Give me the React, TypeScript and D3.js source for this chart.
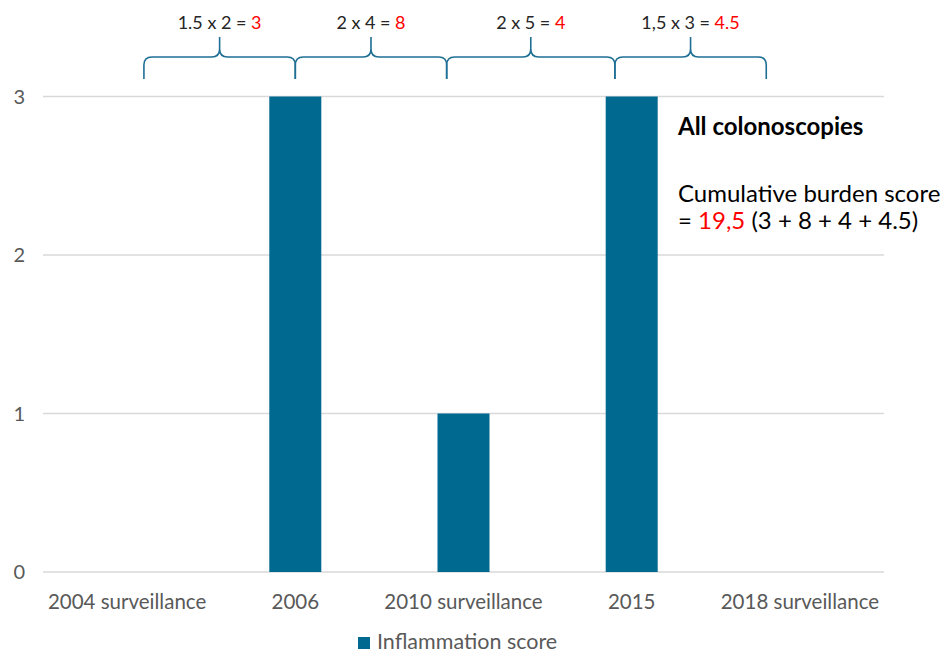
import React from "react";
import * as d3 from "d3";

const categories = ["2004 surveillance", "2006", "2010 surveillance", "2015", "2018 surveillance"];
const inflammationScores = [0, 3, 1, 3, 0];
const yTicks = [0, 1, 2, 3];
// brace spans in category-index units (0 = first category centre)
const braceStarts = [0.1, 1.0, 1.9, 2.9];
const braceEnds = [1.0, 1.9, 2.9, 3.8];
const braceFormulas = ["1.5 x 2 = ", "2 x 4 = ", "2 x 5 = ", "1,5 x 3 = "];
const braceResults = ["3", "8", "4", "4.5"];
const seriesName = "Inflammation score";
const annotationTitle = "All colonoscopies";
const annotationLine1 = "Cumulative burden score";
const annotationTotal = "19,5";
const annotationRest = " (3 + 8 + 4 + 4.5)";

const W = 946;
const H = 655;
const FONT = "Lato, 'Open Sans', sans-serif";
const BAR = "#00698f";
const BRACE = "#1f6f95";

export default function App() {
  const left = 43;
  const right = 884;
  const top = 96.5;
  const bottom = 572;

  const x = d3.scaleBand<string>().domain(categories).range([left, right]).paddingInner(0).paddingOuter(0);
  const bw = x.bandwidth();
  const barW = 52;
  const y = d3.scaleLinear().domain([0, 3]).range([bottom, top]);
  const idx = d3.scaleLinear().domain([0, 1]).range([left + bw / 2, left + bw * 1.5]);

  const yt = 57;
  const yb = 79;
  const ytip = 37;
  const r = 8;

  const bracePath = (x0: number, x1: number) => {
    const xm = (x0 + x1) / 2;
    const p = d3.path();
    p.moveTo(x0, yb);
    p.lineTo(x0, yt + r);
    p.quadraticCurveTo(x0, yt, x0 + r, yt);
    p.lineTo(xm - r, yt);
    p.quadraticCurveTo(xm, yt, xm, yt - r);
    p.lineTo(xm, ytip);
    p.moveTo(xm, yt - r);
    p.quadraticCurveTo(xm, yt, xm + r, yt);
    p.lineTo(x1 - r, yt);
    p.quadraticCurveTo(x1, yt, x1, yt + r);
    p.lineTo(x1, yb);
    return p.toString();
  };

  return (
    <svg
      width={W}
      height={H}
      style={{ position: "absolute", left: 0, top: 0, background: "#fff" }}
      fontFamily={FONT}
    >
      {yTicks.map((t) => (
        <g key={t}>
          <line x1={left} x2={right} y1={y(t)} y2={y(t)} stroke="#d9d9d9" strokeWidth={1.3} />
          <text x={25} y={y(t)} dy="0.35em" textAnchor="end" fontSize={20} fill="#595959">
            {t}
          </text>
        </g>
      ))}
      {categories.map((c, i) => (
        <g key={c}>
          {inflammationScores[i] > 0 && (
            <rect
              x={(x(c) as number) + bw / 2 - barW / 2}
              y={y(inflammationScores[i])}
              width={barW}
              height={bottom - y(inflammationScores[i])}
              fill={BAR}
            />
          )}
          <text
            x={(x(c) as number) + bw / 2}
            y={609}
            textAnchor="middle"
            fontSize={20.5}
            fill="#595959"
          >
            {c}
          </text>
        </g>
      ))}
      {braceStarts.map((s, i) => {
        const x0 = idx(s);
        const x1 = idx(braceEnds[i]);
        const xm = (x0 + x1) / 2;
        return (
          <g key={i}>
            <path d={bracePath(x0, x1)} fill="none" stroke={BRACE} strokeWidth={1.6} />
            <text x={xm} y={29} textAnchor="middle" fontSize={18} fill="#262626">
              {braceFormulas[i]}
              <tspan fill="#ff0000">{braceResults[i]}</tspan>
            </text>
          </g>
        );
      })}
      <text x={678} y={135} fontSize={24} fontWeight="bold" fill="#000">
        {annotationTitle}
      </text>
      <text x={678} y={202} fontSize={24} fill="#000">
        {annotationLine1}
      </text>
      <text x={678} y={229} fontSize={24} fill="#000">
        {"= "}
        <tspan fill="#ff0000">{annotationTotal}</tspan>
        {annotationRest}
      </text>
      <rect x={358} y={637} width={12} height={12} fill={BAR} />
      <text x={377} y={649} fontSize={21.5} fill="#595959">
        {seriesName}
      </text>
    </svg>
  );
}
